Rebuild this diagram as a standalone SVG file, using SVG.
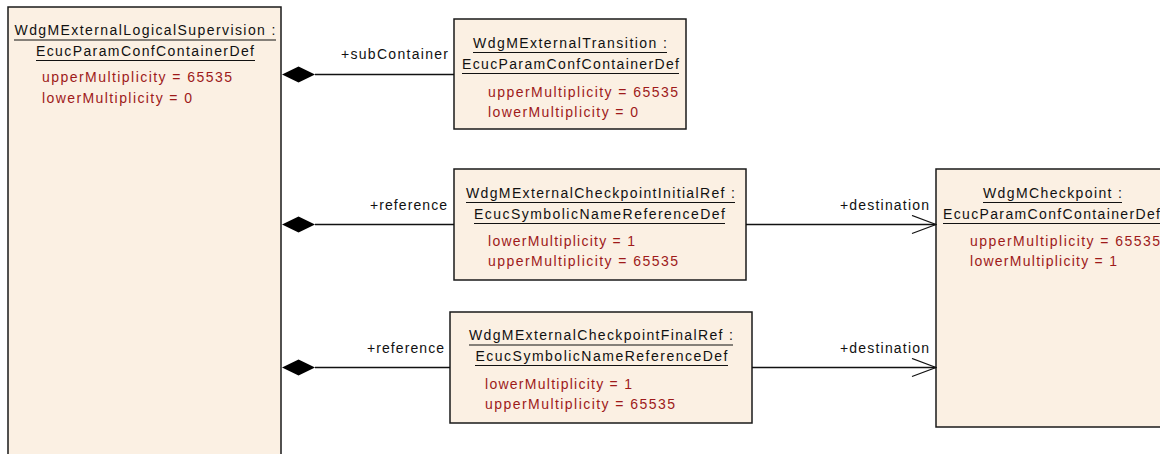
<svg xmlns="http://www.w3.org/2000/svg" width="1160" height="454" viewBox="0 0 1160 454">
<defs>
<style>
.box{fill:#FBF0E3;stroke:#1a1a1a;stroke-width:1.5}
.t{font-family:"Liberation Sans",Arial,sans-serif;font-size:14px;fill:#111;text-anchor:middle}
.a{font-family:"Liberation Sans",Arial,sans-serif;font-size:14px;fill:#9E1A1A}
.l{font-family:"Liberation Sans",Arial,sans-serif;font-size:14px;fill:#111;text-anchor:end}
.u{stroke:#111;stroke-width:1.2}
.c{stroke:#111;stroke-width:1.3;fill:none}
.d{fill:#000}
</style>
<marker id="open" markerWidth="26" markerHeight="20" refX="25" refY="10" orient="auto" markerUnits="userSpaceOnUse">
<path d="M1,1 L25,10 L1,19" fill="none" stroke="#111" stroke-width="1.3"/>
</marker>
</defs>
<rect width="1160" height="454" fill="#fff"/>

<g id="WdgMExternalLogicalSupervision">
<rect class="box" x="8" y="7" width="273" height="460"/>
<text class="t" x="145" y="35" textLength="261" lengthAdjust="spacing">WdgMExternalLogicalSupervision :</text>
<line class="u" x1="14" y1="40" x2="276" y2="40"/>
<text class="t" x="145" y="56" textLength="218" lengthAdjust="spacing">EcucParamConfContainerDef</text>
<line class="u" x1="36" y1="60.5" x2="255" y2="60.5"/>
<text class="a" x="42" y="82" textLength="190" lengthAdjust="spacing">upperMultiplicity = 65535</text>
<text class="a" x="42" y="103" textLength="150" lengthAdjust="spacing">lowerMultiplicity = 0</text>
</g>

<g id="WdgMExternalTransition">
<rect class="box" x="454" y="19" width="232" height="110"/>
<text class="t" x="570" y="48" textLength="194" lengthAdjust="spacing">WdgMExternalTransition :</text>
<line class="u" x1="473" y1="52.5" x2="667" y2="52.5"/>
<text class="t" x="570.5" y="69" textLength="217" lengthAdjust="spacing">EcucParamConfContainerDef</text>
<line class="u" x1="462" y1="73.5" x2="679" y2="73.5"/>
<text class="a" x="488" y="97" textLength="190" lengthAdjust="spacing">upperMultiplicity = 65535</text>
<text class="a" x="488" y="117" textLength="150" lengthAdjust="spacing">lowerMultiplicity = 0</text>
</g>

<g id="WdgMExternalCheckpointInitialRef">
<rect class="box" x="454" y="169" width="292" height="111"/>
<text class="t" x="600.5" y="198" textLength="269" lengthAdjust="spacing">WdgMExternalCheckpointInitialRef :</text>
<line class="u" x1="466" y1="202.5" x2="735" y2="202.5"/>
<text class="t" x="599.5" y="219" textLength="251" lengthAdjust="spacing">EcucSymbolicNameReferenceDef</text>
<line class="u" x1="474" y1="223.5" x2="725" y2="223.5"/>
<text class="a" x="488" y="246" textLength="147" lengthAdjust="spacing">lowerMultiplicity = 1</text>
<text class="a" x="488" y="266" textLength="190" lengthAdjust="spacing">upperMultiplicity = 65535</text>
</g>

<g id="WdgMExternalCheckpointFinalRef">
<rect class="box" x="450" y="312" width="302" height="111"/>
<text class="t" x="601" y="340" textLength="264" lengthAdjust="spacing">WdgMExternalCheckpointFinalRef :</text>
<line class="u" x1="469" y1="345" x2="733" y2="345"/>
<text class="t" x="601.5" y="361" textLength="252" lengthAdjust="spacing">EcucSymbolicNameReferenceDef</text>
<line class="u" x1="475" y1="365.5" x2="728" y2="365.5"/>
<text class="a" x="485" y="389" textLength="147" lengthAdjust="spacing">lowerMultiplicity = 1</text>
<text class="a" x="485" y="409" textLength="190" lengthAdjust="spacing">upperMultiplicity = 65535</text>
</g>

<g id="WdgMCheckpoint">
<rect class="box" x="936" y="169" width="240" height="258"/>
<text class="t" x="1052.5" y="198" textLength="139" lengthAdjust="spacing">WdgMCheckpoint :</text>
<line class="u" x1="983" y1="202.5" x2="1122" y2="202.5"/>
<text class="t" x="1051.5" y="219" textLength="217" lengthAdjust="spacing">EcucParamConfContainerDef</text>
<line class="u" x1="943" y1="223.5" x2="1162" y2="223.5"/>
<text class="a" x="970" y="246" textLength="190" lengthAdjust="spacing">upperMultiplicity = 65535</text>
<text class="a" x="970" y="266" textLength="147" lengthAdjust="spacing">lowerMultiplicity = 1</text>
</g>

<g id="connectors">
<line class="c" x1="315" y1="74.5" x2="454" y2="74.5"/>
<path class="d" d="M282,74.5 L298.5,66.5 L315,74.5 L298.5,82.5 Z"/>
<text class="l" x="448" y="59" textLength="107" lengthAdjust="spacing">+subContainer</text>

<line class="c" x1="315" y1="224.5" x2="454" y2="224.5"/>
<path class="d" d="M282,224.5 L298.5,216.5 L315,224.5 L298.5,232.5 Z"/>
<text class="l" x="447" y="210" textLength="77" lengthAdjust="spacing">+reference</text>

<line class="c" x1="315" y1="367.5" x2="450" y2="367.5"/>
<path class="d" d="M282,367.5 L298.5,359.5 L315,367.5 L298.5,375.5 Z"/>
<text class="l" x="444" y="353" textLength="77" lengthAdjust="spacing">+reference</text>

<line class="c" x1="746" y1="224.5" x2="936" y2="224.5" marker-end="url(#open)"/>
<text class="l" x="929" y="210" textLength="89" lengthAdjust="spacing">+destination</text>

<line class="c" x1="752" y1="367.5" x2="936" y2="367.5" marker-end="url(#open)"/>
<text class="l" x="929" y="353" textLength="89" lengthAdjust="spacing">+destination</text>
</g>
</svg>
